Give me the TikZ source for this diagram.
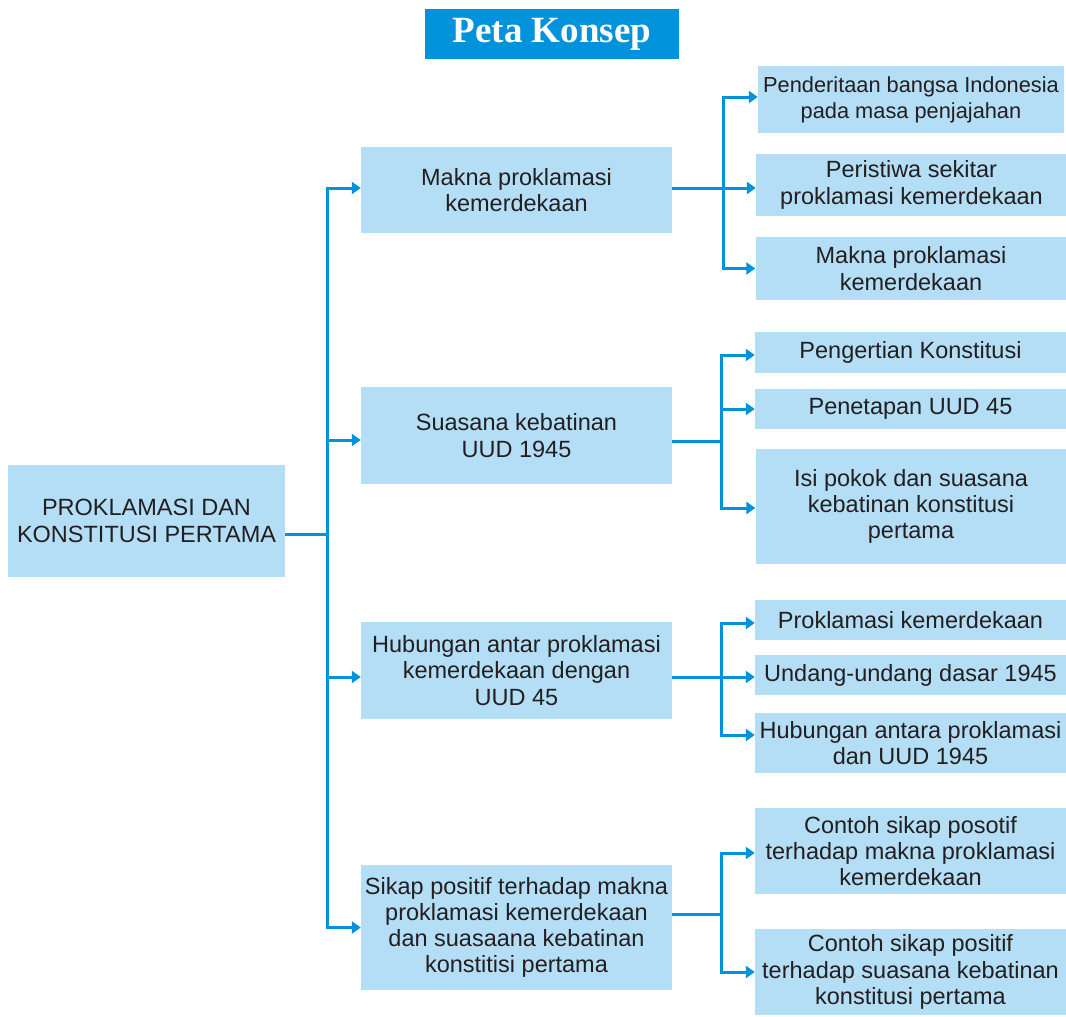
\documentclass[tikz,border=0pt]{standalone}
\usepackage{fontspec}
\setmainfont{Liberation Sans}
\newfontfamily\judulfont{Liberation Serif}
\usetikzlibrary{arrows.meta}
\definecolor{kbiru}{HTML}{0092DB}
\definecolor{kmuda}{HTML}{B3DEF5}
\definecolor{kteks}{HTML}{231F20}

\begin{document}
\begin{tikzpicture}[
    x=1pt, y=-1pt,
    every node/.style={font=\fontsize{23.5}{26.2}\selectfont, text=kteks},
    kotak/.style={fill=kmuda, align=center, inner sep=0pt, minimum width=311pt},
    garis/.style={draw=kbiru, line width=3pt},
    panah/.style={garis, -{Triangle[length=9pt,width=12pt]}}
]
\useasboundingbox (0,0) rectangle (1066,1017);

\node[fill=kbiru, minimum width=254pt, minimum height=50pt, inner sep=0pt,
      text=white, font=\judulfont\bfseries\fontsize{37}{40}\selectfont] (judul) at (552,34) {Peta Konsep};

\node[kotak, minimum width=277pt, minimum height=112pt,
      font=\fontsize{23.5}{27}\selectfont] (utama) at (146.5,521) {PROKLAMASI DAN\\KONSTITUSI PERTAMA};

\node[kotak, minimum height=86pt] (makna) at (516.5,190) {Makna proklamasi\\kemerdekaan};
\node[kotak, minimum height=97pt] (suasana) at (516.5,435.5) {Suasana kebatinan\\UUD 1945};
\node[kotak, minimum height=97pt] (hubungan) at (516.5,670.5) {Hubungan antar proklamasi\\kemerdekaan dengan\\UUD 45};
\node[kotak, minimum height=125pt] (sikap) at (516.5,927.5) {Sikap positif terhadap makna\\proklamasi kemerdekaan\\dan suasaana kebatinan\\konstitisi pertama};

\node[kotak, minimum width=306pt, minimum height=67pt,
      font=\fontsize{21.8}{26.2}\selectfont] (penderitaan) at (911,99.5) {Penderitaan bangsa Indonesia\\pada masa penjajahan};
\node[kotak, minimum height=62pt] (peristiwa) at (911.5,185) {Peristiwa sekitar\\proklamasi kemerdekaan};
\node[kotak, minimum height=63pt] (maknab) at (911,268.5) {Makna proklamasi\\kemerdekaan};

\node[kotak, minimum height=41pt] (pengertian) at (910.5,352.5) {Pengertian Konstitusi};
\node[kotak, minimum height=40pt] (penetapan) at (910.5,409) {Penetapan UUD 45};
\node[kotak, minimum height=115pt] (isipokok) at (911,506.5) {Isi pokok dan suasana\\kebatinan konstitusi\\pertama};

\node[kotak, minimum height=40pt] (proklamasi) at (910.5,620) {Proklamasi kemerdekaan};
\node[kotak, minimum height=40pt] (undang) at (910.5,675) {Undang-undang dasar 1945};
\node[kotak, minimum height=60pt] (hubproklamasi) at (910.5,743) {Hubungan antara proklamasi\\dan UUD 1945};

\node[kotak, minimum height=86pt] (contoha) at (910.5,851) {Contoh sikap posotif\\terhadap makna proklamasi\\kemerdekaan};
\node[kotak, minimum height=86pt] (contohb) at (910.5,972) {Contoh sikap positif\\terhadap suasana kebatinan\\konstitusi pertama};

\coordinate (batang) at (327,534);
\coordinate (cabanga) at (723,188);
\coordinate (cabangb) at (721,441);
\coordinate (cabangc) at (721,677);
\coordinate (cabangd) at (721,914);

\draw[garis] (utama.east |- batang) -- (batang);
\draw[panah] (batang) |- ([yshift=2pt]makna.west);
\draw[panah] (batang) |- ([yshift=-4.5pt]suasana.west);
\draw[panah] (batang) |- ([yshift=-6.5pt]hubungan.west);
\draw[panah] (batang) |- (sikap.west);

\draw[garis] (makna.east |- cabanga) -- (cabanga);
\draw[panah] (cabanga) |- ([yshift=2.5pt]penderitaan.west);
\draw[panah] (cabanga) |- ([yshift=-3pt]peristiwa.west);
\draw[panah] (cabanga) |- (maknab.west);

\draw[garis] (suasana.east |- cabangb) -- (cabangb);
\draw[panah] (cabangb) |- ([yshift=-2.5pt]pengertian.west);
\draw[panah] (cabangb) |- (penetapan.west);
\draw[panah] (cabangb) |- ([yshift=-1.5pt]isipokok.west);

\draw[garis] (hubungan.east |- cabangc) -- (cabangc);
\draw[panah] (cabangc) |- ([yshift=-3pt]proklamasi.west);
\draw[panah] (cabangc) |- ([yshift=-2pt]undang.west);
\draw[panah] (cabangc) |- ([yshift=8pt]hubproklamasi.west);

\draw[garis] (sikap.east |- cabangd) -- (cabangd);
\draw[panah] (cabangd) |- ([yshift=-2pt]contoha.west);
\draw[panah] (cabangd) |- (contohb.west);
\end{tikzpicture}
\end{document}
